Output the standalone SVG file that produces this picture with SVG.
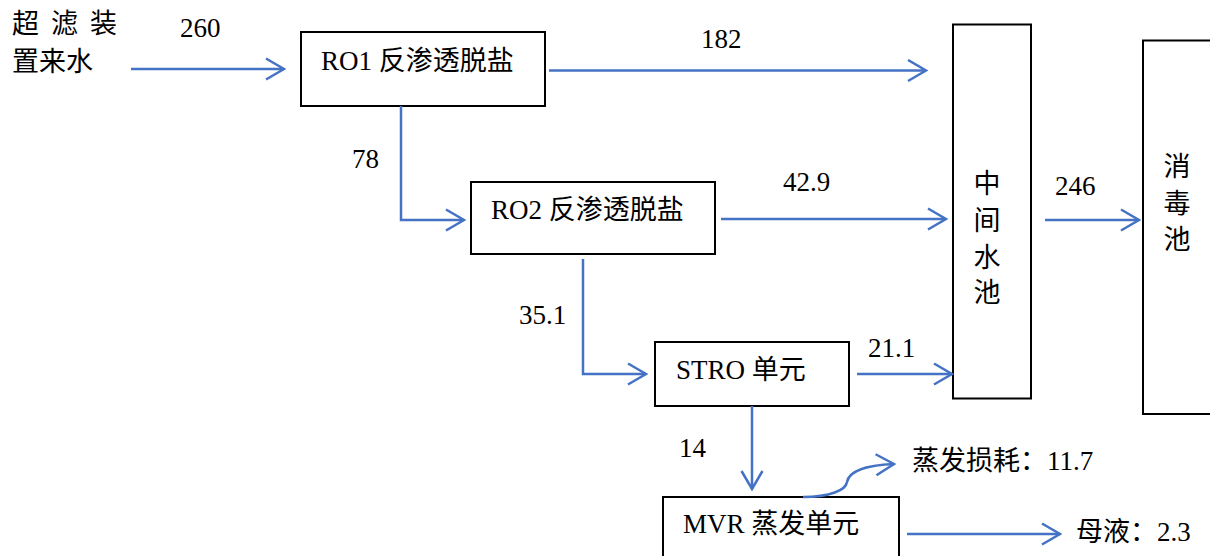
<svg xmlns="http://www.w3.org/2000/svg" width="1210" height="556" viewBox="0 0 1210 556">
  <style>
    .box { fill: #ffffff; stroke: #000000; stroke-width: 2; }
    .flow { fill: none; stroke: #4472C4; stroke-width: 2.5; marker-end: url(#chevron); }
    .pipe { fill: none; stroke: #4472C4; stroke-width: 2.5; }
    text { font-family: "Liberation Serif", "Noto Sans CJK SC", serif; font-size: 27px; fill: #000000; }
    .mid { text-anchor: middle; }
  </style>
  <defs>
    <marker id="chevron" viewBox="0 0 22 24" refX="20" refY="12" markerWidth="22" markerHeight="24" markerUnits="userSpaceOnUse" orient="auto">
      <path d="M2,1.5 L20,12 L2,22.5" fill="none" stroke="#4472C4" stroke-width="2.5"/>
    </marker>
  </defs>

  <rect width="1210" height="556" fill="#ffffff"/>

  <!-- source label -->
  <g id="source">
    <text x="12 51 90" y="33">超滤装</text>
    <text x="12" y="71">置来水</text>
  </g>

  <!-- process units -->
  <g id="ro1">
    <rect class="box" x="301" y="32" width="244" height="74"/>
    <text x="321" y="70">RO1 反渗透脱盐</text>
  </g>
  <g id="ro2">
    <rect class="box" x="471" y="182" width="244" height="72"/>
    <text x="491" y="219">RO2 反渗透脱盐</text>
  </g>
  <g id="stro">
    <rect class="box" x="655" y="342" width="194" height="64"/>
    <text x="676" y="379">STRO 单元</text>
  </g>
  <g id="mvr">
    <rect class="box" x="663" y="497" width="236" height="80"/>
    <text x="683" y="533">MVR 蒸发单元</text>
  </g>
  <g id="middle-tank">
    <rect class="box" x="953" y="24.5" width="78" height="374"/>
    <text class="mid" x="987" y="193">中</text>
    <text class="mid" x="987" y="230">间</text>
    <text class="mid" x="987" y="267">水</text>
    <text class="mid" x="987" y="302">池</text>
  </g>
  <g id="disinfection-tank">
    <rect class="box" x="1143" y="40.5" width="100" height="373.5"/>
    <text class="mid" x="1177" y="176">消</text>
    <text class="mid" x="1177" y="213">毒</text>
    <text class="mid" x="1177" y="249">池</text>
  </g>
  <g id="evaporation-loss">
    <text x="912" y="470">蒸发损耗：11.7</text>
  </g>
  <g id="mother-liquor">
    <text x="1076" y="541">母液：2.3</text>
  </g>

  <!-- flow lines -->
  <g id="connectors">
    <path class="flow" d="M131,69 H284"/>
    <path class="flow" d="M549,70.5 H926"/>
    <path class="flow" d="M401,106 V220 H464"/>
    <path class="flow" d="M721,219 H946"/>
    <path class="flow" d="M1045,220 H1139"/>
    <path class="flow" d="M583,259 V374 H646"/>
    <path class="flow" d="M857,374 H952"/>
    <path class="flow" d="M752,406 V489"/>
    <path class="flow" d="M803,497 C830,497 846,490 847,482 C849,470 870,465 894,464"/>
    <path class="flow" d="M907,534 H1060"/>
  </g>

  <!-- flow quantities -->
  <g id="flow-labels">
    <text x="180" y="37">260</text>
    <text x="701" y="48">182</text>
    <text x="352" y="168">78</text>
    <text x="783" y="191">42.9</text>
    <text x="1055" y="195">246</text>
    <text x="519" y="324">35.1</text>
    <text x="868" y="357">21.1</text>
    <text x="679" y="457">14</text>
  </g>
</svg>
